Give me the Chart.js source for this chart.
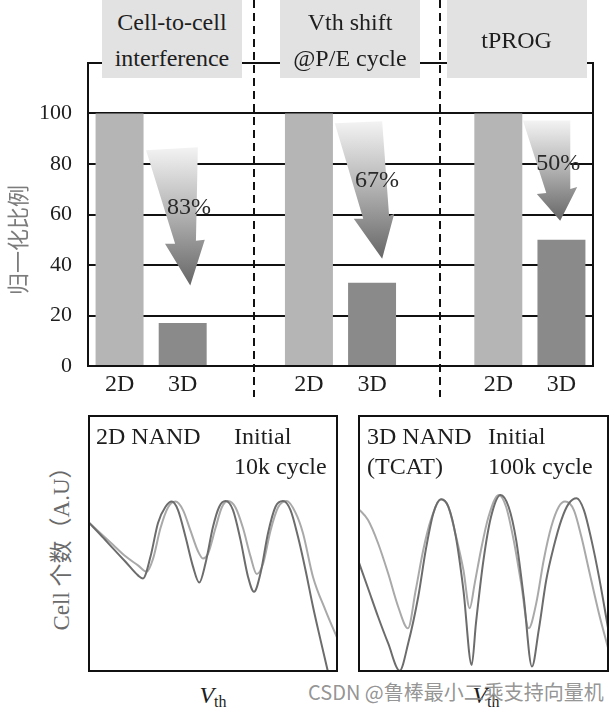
<!DOCTYPE html>
<html>
<head>
<meta charset="utf-8">
<script src="https://cdn.jsdelivr.net/npm/chart.js@4.4.1/dist/chart.umd.min.js"></script>
<style>
    body { margin: 0; background: #fff; }
    #page { position: relative; width: 615px; height: 712px; overflow: hidden; font-family: "Liberation Serif", "Noto Sans CJK SC", serif; color: #1e1e1e; }
    canvas { position: absolute; }
    .box { position: absolute; top: 0; height: 78px; background: #e2e2e2; text-align: center; font-size: 24px; line-height: 36px; box-sizing: border-box; }
    .txt { position: absolute; font-size: 24px; line-height: 30px; white-space: nowrap; }
    .vtitle { position: absolute; text-align: center; white-space: nowrap; transform: rotate(-90deg); }
    .vth { position: absolute; width: 80px; text-align: center; font-size: 24px; line-height: 30px; }
    .vth sub { font-size: 16px; vertical-align: -4px; }
    #mark { position: absolute; left: 308px; top: 678px; font-family: "Noto Sans CJK SC", sans-serif; font-size: 20px; line-height: 28px; color: rgba(135, 135, 135, 0.9); white-space: nowrap; }
</style>
</head>
<body>
<div id="page">
    <canvas id="ratioChart" width="615" height="400" style="left:0;top:0"></canvas>
    <canvas id="nand2d" width="250" height="257" style="left:88px;top:415px"></canvas>
    <canvas id="nand3d" width="251" height="257" style="left:358px;top:415px"></canvas>
    <div id="titles"></div>
    <div class="vtitle" style="left:-54px;top:225px;width:140px;height:30px;line-height:30px;font-size:22px;color:#7c7c7c;font-family:'Noto Sans CJK SC',sans-serif;">归一化比例</div>
    <div class="vtitle" style="left:-48px;top:528px;width:220px;height:30px;line-height:30px;font-size:23px;color:#6a6a6a;">Cell 个数（A.U）</div>
    <div class="txt" style="left:96px;top:421px">2D NAND</div>
    <div class="txt" style="left:234px;top:421px">Initial<br>10k cycle</div>
    <div class="txt" style="left:367px;top:421px">3D NAND<br>(TCAT)</div>
    <div class="txt" style="left:488px;top:421px">Initial<br>100k cycle</div>
    <div class="vth" style="left:173px;top:680px"><i>V</i><sub>th</sub></div>
    <div class="vth" style="left:446px;top:680px"><i>V</i><sub>th</sub></div>
    <div id="mark">CSDN @鲁棒最小二乘支持向量机</div>
</div>
<script>
// top chart: normalised ratio, 2D vs 3D
const groupNames = ['Cell-to-cell<br>interference', 'Vth shift<br>@P/E cycle', 'tPROG'];
const ratio2D = [100, 100, 100];
const ratio3D = [17, 33, 50];
const reduction = ['83%', '67%', '50%'];
const yTicks = [0, 20, 40, 60, 80, 100];

// bottom panels: Vth distributions (x and y in A.U., 0..100 of panel)
const nand2dInitX = [0, 5, 10, 15, 20, 23.5, 26, 29, 32, 35, 38, 41, 44, 46, 48, 51, 53.5, 56, 59, 62, 65, 67.5, 70, 73, 76, 79.5, 83, 86, 90, 95, 100];
const nand2dInitY = [58.5, 54, 49.5, 45, 41.5, 39, 44, 56, 64, 66.3, 63, 55, 47, 44.2, 46, 56, 64, 66.5, 64, 56, 45, 38.1, 42, 55, 64, 66.5, 62, 54, 37, 24, 12.5];
const nand2dCycX = [0, 5, 10, 15, 20, 22, 25, 28, 31, 33.5, 36, 39, 42, 44.5, 47, 50, 52.5, 55, 58, 61, 64, 66.4, 69, 72, 75, 78, 81, 84, 87, 90, 93, 96];
const nand2dCycY = [58.5, 53.4, 48.1, 42.9, 37.6, 36.4, 44.9, 58, 64.3, 66.3, 63, 52.6, 41, 34.8, 42.3, 56.5, 64.3, 66.5, 63, 51.4, 37.1, 31.2, 38.4, 54, 64.3, 66.5, 63, 52.6, 39.7, 25.4, 12.5, 0];

const nand3dInitX = [0, 4, 8, 12, 16, 19.9, 23, 26, 29, 33.1, 36, 39, 42, 44.5, 46.5, 49, 52, 56.1, 59, 62, 65, 68, 71, 74, 77, 80, 82.5, 86, 89, 92, 96, 100];
const nand3dInitY = [63.7, 59.1, 50.1, 38.4, 25.4, 17, 31.9, 47.5, 59.1, 67.2, 64.3, 53, 39.7, 24.8, 34.5, 47.5, 60.4, 68.9, 64.3, 51.4, 34.5, 17, 26.7, 43.6, 56.5, 64.3, 66.3, 63, 52.6, 39.7, 22.8, 8];
const nand3dCycX = [0, 4, 8, 12, 16.6, 20, 24, 27, 30, 33.1, 36, 39, 42, 45.3, 47, 50, 53, 56.8, 60, 63, 66, 69.3, 72, 75, 78, 81, 84, 87.1, 90, 93, 96, 100];
const nand3dCycY = [43.6, 32.6, 21.5, 11.2, 0.5, 11.2, 29.3, 47.5, 61.7, 67.2, 64.3, 52.6, 31.9, 2.7, 19, 43.6, 60.4, 68.9, 64.3, 51.4, 29.3, 2.1, 16.3, 35.8, 48.8, 59.1, 65.6, 67.6, 63, 51.4, 37.1, 15];

const SERIF = '"Liberation Serif", "Times New Roman", serif';
const COLOR_2D = '#b4b5b4';
const COLOR_3D = '#8a8a8a';

// slot layout: 2D, 3D, gap, 2D, 3D, gap, 2D, 3D
const slotLabels = [];
const slotValues = [];
groupNames.forEach((name, i) => {
    slotLabels.push('2D', '3D');
    slotValues.push(ratio2D[i], ratio3D[i]);
    if (i < groupNames.length - 1) {
        slotLabels.push('');
        slotValues.push(null);
    }
});

// decoration geometry (slot offset from the 3D bar, value)
const dividerSlots = [2.13, 5.08];
const boxSlots = [0.83, 3.65, 6.29];
const arrowShapes = [
    [[-0.58, 85.4], [0.24, 86.6], [0.21, 49.6], [0.35, 50], [0.12, 31.9], [-0.28, 48.4], [-0.12, 48.4]],
    [[-0.59, 96.1], [0.16, 96.9], [0.27, 59.4], [0.35, 60.2], [0.16, 42.5], [-0.29, 58.3], [-0.14, 58.3]],
    [[-0.61, 97.2], [0.14, 97.2], [0.14, 70.1], [0.25, 70.9], [-0.02, 57.5], [-0.39, 68.1], [-0.24, 68.5]]
];
const labelSpots = [[0.1, 62.6], [0.08, 73.2], [-0.05, 80.3]];

const ratioDecor = {
    id: 'ratioDecor',
    afterDatasetsDraw(chart) {
        const {ctx, chartArea, scales: {x, y}} = chart;
        ctx.save();
        ctx.strokeStyle = '#111';
        ctx.lineWidth = 2;
        ctx.beginPath();
        ctx.moveTo(chartArea.right, chartArea.top - 1);
        ctx.lineTo(chartArea.right, chartArea.bottom + 1);
        ctx.stroke();

        ctx.setLineDash([8, 5]);
        dividerSlots.forEach(s => {
            const px = Math.round(x.getPixelForValue(s));
            ctx.beginPath();
            ctx.moveTo(px, 0);
            ctx.lineTo(px, chart.height - 3);
            ctx.stroke();
        });
        ctx.setLineDash([]);

        arrowShapes.forEach((shape, i) => {
            const slot = i * 3 + 1;
            const pts = shape.map(([dx, v]) => [x.getPixelForValue(slot + dx), y.getPixelForValue(v)]);
            const ys = pts.map(p => p[1]);
            const grad = ctx.createLinearGradient(0, Math.min(...ys), 0, Math.max(...ys));
            grad.addColorStop(0, '#f3f3f3');
            grad.addColorStop(0.5, '#b0b0b0');
            grad.addColorStop(1, '#666');
            ctx.fillStyle = grad;
            ctx.beginPath();
            pts.forEach(([px, py], k) => k ? ctx.lineTo(px, py) : ctx.moveTo(px, py));
            ctx.closePath();
            ctx.fill();

            const [lx, ly] = labelSpots[i];
            ctx.fillStyle = '#2a2a2a';
            ctx.font = '24px ' + SERIF;
            ctx.textAlign = 'center';
            ctx.textBaseline = 'middle';
            ctx.fillText(reduction[i], x.getPixelForValue(slot + lx), y.getPixelForValue(ly));
        });
        ctx.restore();
    }
};

const ratioChart = new Chart(document.getElementById('ratioChart'), {
    type: 'bar',
    data: {
        labels: slotLabels,
        datasets: [{
            data: slotValues,
            backgroundColor: slotLabels.map(l => l === '2D' ? COLOR_2D : COLOR_3D),
            barPercentage: 0.76,
            categoryPercentage: 1
        }]
    },
    options: {
        responsive: false,
        animation: false,
        devicePixelRatio: 1,
        layout: { padding: { top: 63, right: 22, left: 0, bottom: 0 } },
        plugins: { legend: { display: false }, tooltip: { enabled: false } },
        scales: {
            x: {
                grid: { display: false, drawTicks: false },
                border: { display: false },
                ticks: { autoSkip: false, maxRotation: 0, padding: 4, color: '#1e1e1e', font: { family: SERIF, size: 24 } },
                afterFit(scale) { scale.height = 34; }
            },
            y: {
                min: 0,
                max: 120,
                afterBuildTicks(scale) {
                    scale.ticks = yTicks.concat([120]).map(v => ({ value: v }));
                },
                ticks: {
                    padding: 16,
                    color: '#1e1e1e',
                    font: { family: SERIF, size: 22 },
                    callback: v => yTicks.includes(v) ? v : ''
                },
                grid: { color: '#111', lineWidth: 2, drawTicks: false },
                border: { display: true, color: '#111', width: 2 },
                afterFit(scale) { scale.width = 88; }
            }
        }
    },
    plugins: [ratioDecor]
});

// grey title boxes over the top frame, centred on their groups
const titles = document.getElementById('titles');
groupNames.forEach((name, i) => {
    const cx = ratioChart.scales.x.getPixelForValue(boxSlots[i]);
    const div = document.createElement('div');
    div.className = 'box';
    div.style.left = (cx - 70) + 'px';
    div.style.width = '140px';
    div.style.paddingTop = name.includes('<br>') ? '4px' : '22px';
    div.innerHTML = name;
    titles.appendChild(div);
});

const panelFrame = {
    id: 'panelFrame',
    afterDraw(chart) {
        const {ctx, width, height} = chart;
        ctx.save();
        ctx.strokeStyle = '#111';
        ctx.lineWidth = 2;
        ctx.strokeRect(1, 1, width - 2, height - 2);
        ctx.restore();
    }
};

function toPoints(xs, ys) {
    return xs.map((x, i) => ({ x, y: ys[i] }));
}

function makePanel(id, initX, initY, cycX, cycY) {
    return new Chart(document.getElementById(id), {
        type: 'line',
        data: {
            datasets: [
                { label: 'cycled', data: toPoints(cycX, cycY), borderColor: '#6c6c6c', borderWidth: 2, pointRadius: 0, cubicInterpolationMode: 'monotone' },
                { label: 'Initial', data: toPoints(initX, initY), borderColor: '#a9a9a9', borderWidth: 2, pointRadius: 0, cubicInterpolationMode: 'monotone' }
            ]
        },
        options: {
            responsive: false,
            animation: false,
            devicePixelRatio: 1,
            layout: { padding: 0 },
            plugins: { legend: { display: false }, tooltip: { enabled: false } },
            scales: {
                x: { type: 'linear', min: 0, max: 100, display: false },
                y: { min: 0, max: 100, display: false }
            }
        },
        plugins: [panelFrame]
    });
}

makePanel('nand2d', nand2dInitX, nand2dInitY, nand2dCycX, nand2dCycY);
makePanel('nand3d', nand3dInitX, nand3dInitY, nand3dCycX, nand3dCycY);
</script>
</body>
</html>
